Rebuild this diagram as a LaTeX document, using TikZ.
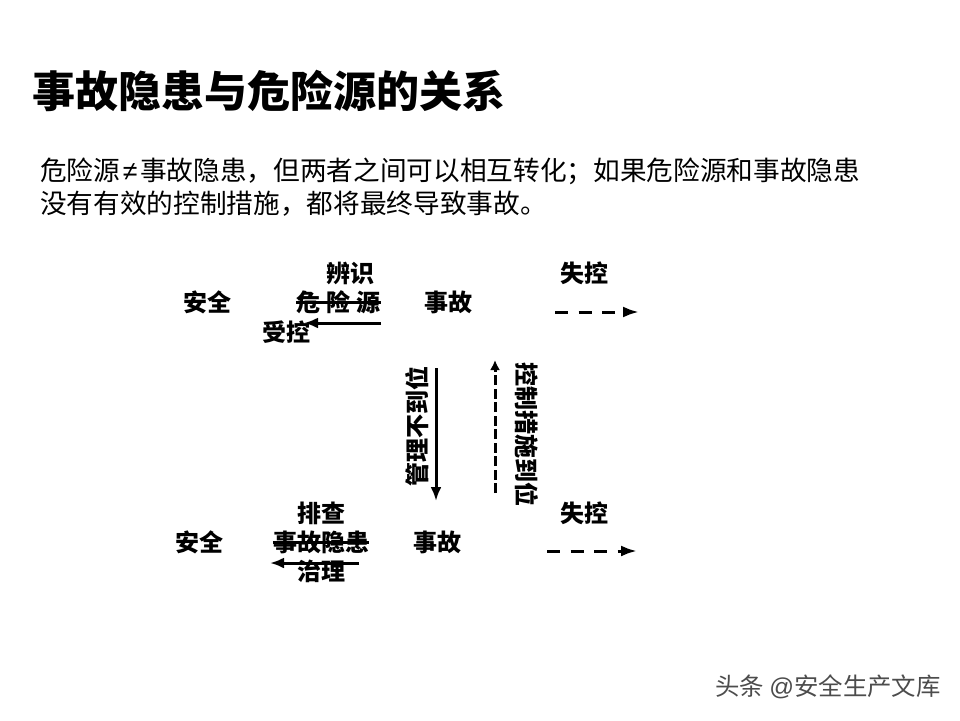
\documentclass[tikz,border=0pt]{standalone}
\usepackage{fontspec}
\setmainfont{Noto Sans CJK SC}
\newfontfamily\lat{Liberation Sans}
\usetikzlibrary{arrows.meta}
\tikzset{
  lbl/.style={font=\fontsize{24pt}{24pt}\selectfont\bfseries,inner sep=0pt,text=black},
  flow/.style={line width=3pt,-{Latex[length=14pt,width=11pt]}},
  dashflow/.style={line width=3pt,dash pattern=on 13pt off 10.5pt,-{Latex[length=16pt,width=11pt]}},
  strike/.style={line width=3pt}
}
\begin{document}
\begin{tikzpicture}[x=1pt,y=-1pt]
\useasboundingbox (0,0) rectangle (960,720);
\fill[white] (0,0) rectangle (960,720);
\node[anchor=west,inner sep=0pt,font=\fontsize{43pt}{44pt}\selectfont\bfseries] (title) at (32,91) {事故隐患与危险源的关系};
\node[anchor=west,inner sep=0pt,font=\fontsize{26.67pt}{30pt}\selectfont] (l1) at (40,171) {危险源\makebox[20pt][c]{\lat ≠}事故隐患，但两者之间可以相互转化；如果危险源和事故隐患};
\node[anchor=west,inner sep=0pt,font=\fontsize{26.67pt}{30pt}\selectfont] (l2) at (40,204) {没有有效的控制措施，都将最终导致事故。};
% top row
\node[lbl] (a1) at (207,302) {安全};
\node[lbl] (b1) at (350,273) {辨识};
\node[lbl] (c1) at (338.5,302) {危\hspace{6pt}险\hspace{6pt}源};
\node[lbl] (d1) at (286,332) {受控};
\node[lbl] (e1) at (448,302) {事故};
\node[lbl] (f1) at (584,273) {失控};
\draw[strike] (c1.west) -- (c1.east);
\coordinate (c1r) at (381,323);
\coordinate (c1l) at (304,323);
\draw[flow] (c1r) -- (c1l);
\coordinate (g1l) at (555,312);
\coordinate (g1r) at (639,312);
\draw[dashflow] (g1l) -- (g1r);
% verticals
\node[lbl,rotate=90] (m) at (417,426) {管理不到位};
\node[lbl,rotate=-90] (k) at (527,434) {控制措施到位};
\coordinate (mt) at (436,368);
\coordinate (mb) at (436,501);
\draw[flow] (mt) -- (mb);
\coordinate (kb) at (495,493);
\coordinate (kt) at (495,360);
\draw[line width=3pt,dash pattern=on 10pt off 3.5pt,-{Latex[length=10pt,width=10pt]}] (kb) -- (kt);
% bottom row
\node[lbl] (a2) at (199,542) {安全};
\node[lbl] (b2) at (321,513) {排查};
\node[lbl] (c2) at (321,542) {事故隐患};
\node[lbl] (d2) at (321,571) {治理};
\node[lbl] (e2) at (437,542) {事故};
\node[lbl] (f2) at (584,513) {失控};
\draw[strike] (c2.west) -- (c2.east);
\coordinate (c2r) at (359,563);
\coordinate (c2l) at (270,563);
\draw[flow] (c2r) -- (c2l);
\coordinate (g2l) at (547,551);
\coordinate (g2r) at (637,551);
\draw[dashflow] (g2l) -- (g2r);
% watermark
\node[anchor=west,inner sep=0pt,text=black!70,font=\fontsize{24.4pt}{26pt}\selectfont] (wm) at (715,687) {头条 {\lat @}安全生产文库};
\end{tikzpicture}
\end{document}
